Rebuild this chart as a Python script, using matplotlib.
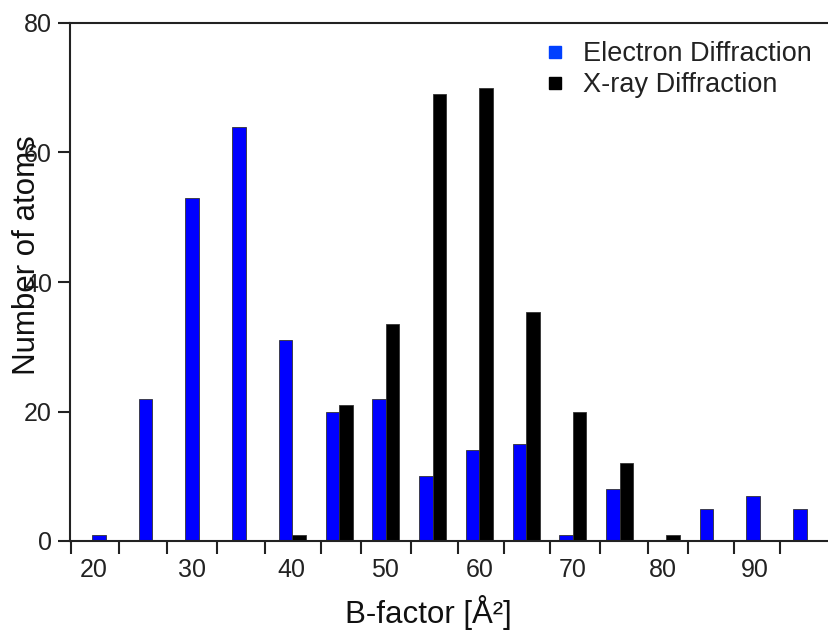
import matplotlib
matplotlib.use("Agg")
import matplotlib.pyplot as plt
from matplotlib.lines import Line2D
import numpy as np

plt.rcParams['font.family'] = ['Liberation Sans', 'DejaVu Sans']

bins = [20, 25, 30, 35, 40, 45, 50, 55, 60, 65, 70, 75, 80, 85, 90, 95]
electron = [1, 22, 53, 64, 31, 20, 22, 10, 14, 15, 1, 8, 0, 5, 7, 5]
xray = [0, 0, 0, 0, 1, 21, 33.5, 69, 70, 35.3, 20, 12, 1, 0, 0, 0]
tick_labels = ["20", "30", "40", "50", "60", "70", "80", "90"]
tick_label_pos = [18.7, 29.2, 39.9, 49.9, 60.0, 70.0, 79.6, 89.5]
tick_marks = [16.3, 21.4, 26.6, 31.9, 37.1, 43.0, 47.3, 52.7, 57.7, 62.6, 67.5, 72.9, 78.0, 82.3, 87.2, 92.2]
series_names = ["Electron Diffraction", "X-ray Diffraction"]

W, H = 829, 634
fig = plt.figure(figsize=(W / 100, H / 100), dpi=100)
fig.patch.set_facecolor('white')
ax = fig.add_axes([70 / W, (H - 541) / H, 759 / W, 518 / H])

bw = 1.45
x = np.array(bins, dtype=float)
ax.bar(x - bw / 2, electron, width=bw, color='#0000ff', edgecolor='#333333', linewidth=0.6)
ax.bar(x + bw / 2, xray, width=bw, color='#000000', edgecolor='#333333', linewidth=0.6)

ax.set_xlim(16.2, 97.4)
ax.set_ylim(0, 80)

spine_c = '#222222'
for s in ['left', 'bottom', 'top']:
    ax.spines[s].set_linewidth(1.5)
    ax.spines[s].set_color(spine_c)
ax.spines['right'].set_visible(False)

# major ticks (marks only) between groups
ax.set_xticks(tick_marks)
ax.set_xticklabels([])
ax.tick_params(axis='x', which='major', direction='out', length=9, width=1.5, color=spine_c, top=False)
# labels placed near group centres via minor ticks
ax.set_xticks(tick_label_pos, minor=True)
ax.set_xticklabels(tick_labels, minor=True)
ax.tick_params(axis='x', which='minor', length=0, pad=12, labelsize=18, labelcolor='#222222')

ax.set_yticks([0, 20, 40, 60, 80])
ax.tick_params(axis='y', direction='out', length=9, width=1.5, color=spine_c, labelsize=18,
               labelcolor='#222222', pad=4)

ax.set_xlabel("B-factor [Å²]", fontsize=22.5, color='#111111')
ax.xaxis.set_label_coords((428 - 70) / 759, (541 - 595) / 518)
ax.set_ylabel("Number of atoms", fontsize=22.5, color='#111111')
ax.yaxis.set_label_coords(-0.037, 0.552)

handles = [Line2D([], [], linestyle='none', marker='s', markersize=8.5, color='#0040ff'),
           Line2D([], [], linestyle='none', marker='s', markersize=8.5, color='#000000')]
ax.legend(handles, series_names, loc='upper right', bbox_to_anchor=((812 - 70) / 759, (541 - 41) / 518),
          frameon=False, fontsize=19.5, handlelength=1.0, handletextpad=0.56, labelspacing=0.2,
          borderaxespad=0.0, borderpad=0.0, labelcolor='#222222')

fig.savefig("out.png", dpi=100, facecolor='white')
